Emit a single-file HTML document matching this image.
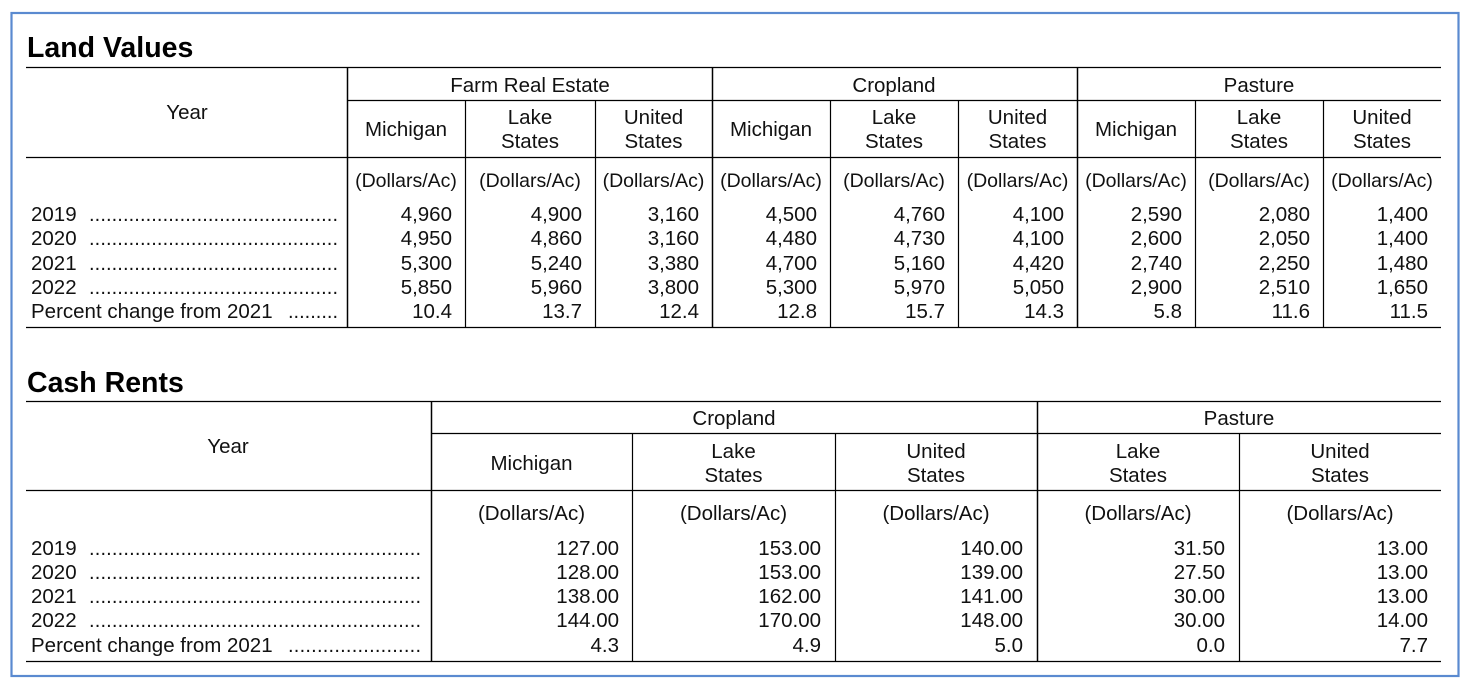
<!DOCTYPE html>
<html><head><meta charset="utf-8"><style>
html,body{margin:0;padding:0;background:#fff;}
svg{display:block;font-family:"Liberation Sans",Arial,sans-serif;}
</style></head><body>
<svg width="1468" height="690" viewBox="0 0 1468 690" xmlns="http://www.w3.org/2000/svg">
<rect x="11.5" y="13" width="1447" height="663" fill="none" stroke="#5a8ad0" stroke-width="2.2"/>
<g font-size="28.5" font-weight="bold" fill="#000">
<text x="27" y="57">Land Values</text>
<text x="27" y="392">Cash Rents</text>
</g>
<g stroke="#000" stroke-width="1.2" fill="none">
<line x1="26" y1="67.5" x2="1441" y2="67.5"/>
<line x1="347" y1="100.5" x2="1441" y2="100.5"/>
<line x1="26" y1="157.5" x2="1441" y2="157.5"/>
<line x1="26" y1="327.5" x2="1441" y2="327.5"/>
<line x1="347.5" y1="67" x2="347.5" y2="327" stroke-width="1.5"/>
<line x1="712.5" y1="67" x2="712.5" y2="327" stroke-width="1.5"/>
<line x1="1077.5" y1="67" x2="1077.5" y2="327" stroke-width="1.5"/>
<line x1="465.5" y1="100" x2="465.5" y2="327"/>
<line x1="595.5" y1="100" x2="595.5" y2="327"/>
<line x1="830.5" y1="100" x2="830.5" y2="327"/>
<line x1="958.5" y1="100" x2="958.5" y2="327"/>
<line x1="1195.5" y1="100" x2="1195.5" y2="327"/>
<line x1="1323.5" y1="100" x2="1323.5" y2="327"/>
<line x1="26" y1="401.5" x2="1441" y2="401.5"/>
<line x1="431" y1="433.5" x2="1441" y2="433.5"/>
<line x1="26" y1="490.5" x2="1441" y2="490.5"/>
<line x1="26" y1="661.5" x2="1441" y2="661.5"/>
<line x1="431.5" y1="401" x2="431.5" y2="661" stroke-width="1.5"/>
<line x1="1037.5" y1="401" x2="1037.5" y2="661" stroke-width="1.5"/>
<line x1="632.5" y1="433" x2="632.5" y2="661"/>
<line x1="835.5" y1="433" x2="835.5" y2="661"/>
<line x1="1239.5" y1="433" x2="1239.5" y2="661"/>
</g>
<g font-size="20.5" fill="#111" text-anchor="middle">
<text x="187" y="119">Year</text>
<text x="530" y="92">Farm Real Estate</text>
<text x="894" y="92">Cropland</text>
<text x="1259" y="92">Pasture</text>
<text x="406" y="136">Michigan</text>
<text x="530" y="124">Lake</text><text x="530" y="148">States</text>
<text x="653.5" y="124">United</text><text x="653.5" y="148">States</text>
<text x="771" y="136">Michigan</text>
<text x="894" y="124">Lake</text><text x="894" y="148">States</text>
<text x="1017.5" y="124">United</text><text x="1017.5" y="148">States</text>
<text x="1136" y="136">Michigan</text>
<text x="1259" y="124">Lake</text><text x="1259" y="148">States</text>
<text x="1382" y="124">United</text><text x="1382" y="148">States</text>
<g font-size="19.5">
<text x="406" y="187">(Dollars/Ac)</text>
<text x="530" y="187">(Dollars/Ac)</text>
<text x="653.5" y="187">(Dollars/Ac)</text>
<text x="771" y="187">(Dollars/Ac)</text>
<text x="894" y="187">(Dollars/Ac)</text>
<text x="1017.5" y="187">(Dollars/Ac)</text>
<text x="1136" y="187">(Dollars/Ac)</text>
<text x="1259" y="187">(Dollars/Ac)</text>
<text x="1382" y="187">(Dollars/Ac)</text>
</g>
<text x="228" y="453">Year</text>
<text x="734" y="425">Cropland</text>
<text x="1239" y="425">Pasture</text>
<text x="531.5" y="470">Michigan</text>
<text x="733.5" y="458">Lake</text><text x="733.5" y="482">States</text>
<text x="936" y="458">United</text><text x="936" y="482">States</text>
<text x="1138" y="458">Lake</text><text x="1138" y="482">States</text>
<text x="1340" y="458">United</text><text x="1340" y="482">States</text>
<text x="531.5" y="520">(Dollars/Ac)</text>
<text x="733.5" y="520">(Dollars/Ac)</text>
<text x="936" y="520">(Dollars/Ac)</text>
<text x="1138" y="520">(Dollars/Ac)</text>
<text x="1340" y="520">(Dollars/Ac)</text>
</g>
<g font-size="20.5" fill="#111">
<text x="31" y="221">2019</text><text x="31" y="245">2020</text><text x="31" y="270">2021</text><text x="31" y="294">2022</text>
<text x="31" y="318">Percent change from 2021</text>
<text x="31" y="555">2019</text><text x="31" y="579">2020</text><text x="31" y="603">2021</text><text x="31" y="627">2022</text>
<text x="31" y="652">Percent change from 2021</text>
</g>
<g font-size="20" fill="#111">
<text x="89" y="221" textLength="249" lengthAdjust="spacing">............................................</text>
<text x="89" y="245" textLength="249" lengthAdjust="spacing">............................................</text>
<text x="89" y="270" textLength="249" lengthAdjust="spacing">............................................</text>
<text x="89" y="294" textLength="249" lengthAdjust="spacing">............................................</text>
<text x="288" y="318" textLength="50" lengthAdjust="spacing">.........</text>
<text x="89" y="555" textLength="332" lengthAdjust="spacing">..........................................................</text>
<text x="89" y="579" textLength="332" lengthAdjust="spacing">..........................................................</text>
<text x="89" y="603" textLength="332" lengthAdjust="spacing">..........................................................</text>
<text x="89" y="627" textLength="332" lengthAdjust="spacing">..........................................................</text>
<text x="288" y="652" textLength="133" lengthAdjust="spacing">.......................</text>
</g>
<g font-size="20.5" fill="#111" text-anchor="end">
<g transform="translate(0,221)">
<text x="452">4,960</text><text x="582">4,900</text><text x="699">3,160</text><text x="817">4,500</text><text x="945">4,760</text><text x="1064">4,100</text><text x="1182">2,590</text><text x="1310">2,080</text><text x="1428">1,400</text>
</g>
<g transform="translate(0,245)">
<text x="452">4,950</text><text x="582">4,860</text><text x="699">3,160</text><text x="817">4,480</text><text x="945">4,730</text><text x="1064">4,100</text><text x="1182">2,600</text><text x="1310">2,050</text><text x="1428">1,400</text>
</g>
<g transform="translate(0,270)">
<text x="452">5,300</text><text x="582">5,240</text><text x="699">3,380</text><text x="817">4,700</text><text x="945">5,160</text><text x="1064">4,420</text><text x="1182">2,740</text><text x="1310">2,250</text><text x="1428">1,480</text>
</g>
<g transform="translate(0,294)">
<text x="452">5,850</text><text x="582">5,960</text><text x="699">3,800</text><text x="817">5,300</text><text x="945">5,970</text><text x="1064">5,050</text><text x="1182">2,900</text><text x="1310">2,510</text><text x="1428">1,650</text>
</g>
<g transform="translate(0,318)">
<text x="452">10.4</text><text x="582">13.7</text><text x="699">12.4</text><text x="817">12.8</text><text x="945">15.7</text><text x="1064">14.3</text><text x="1182">5.8</text><text x="1310">11.6</text><text x="1428">11.5</text>
</g>
<g transform="translate(0,555)">
<text x="619">127.00</text><text x="821">153.00</text><text x="1023">140.00</text><text x="1225">31.50</text><text x="1428">13.00</text>
</g>
<g transform="translate(0,579)">
<text x="619">128.00</text><text x="821">153.00</text><text x="1023">139.00</text><text x="1225">27.50</text><text x="1428">13.00</text>
</g>
<g transform="translate(0,603)">
<text x="619">138.00</text><text x="821">162.00</text><text x="1023">141.00</text><text x="1225">30.00</text><text x="1428">13.00</text>
</g>
<g transform="translate(0,627)">
<text x="619">144.00</text><text x="821">170.00</text><text x="1023">148.00</text><text x="1225">30.00</text><text x="1428">14.00</text>
</g>
<g transform="translate(0,652)">
<text x="619">4.3</text><text x="821">4.9</text><text x="1023">5.0</text><text x="1225">0.0</text><text x="1428">7.7</text>
</g>
</g>
</svg>
</body></html>
